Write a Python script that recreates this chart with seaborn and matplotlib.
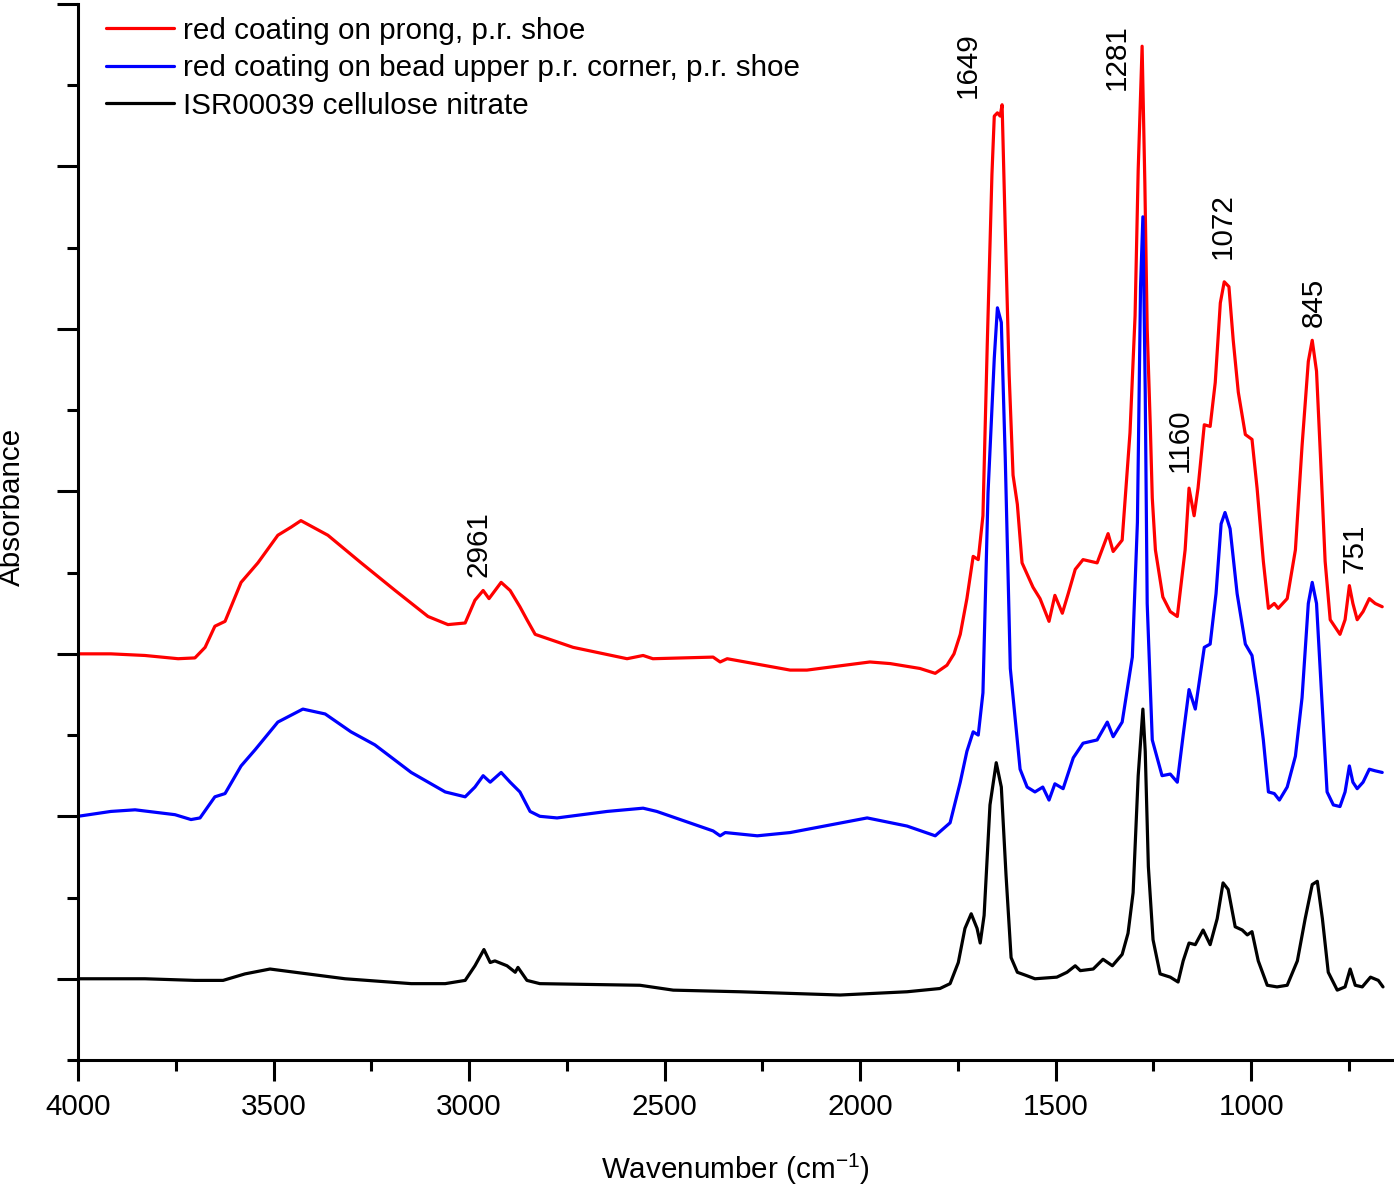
import numpy as np
import pandas as pd
import seaborn as sns
import matplotlib.pyplot as plt

# =============================
# Spectra (absorbance, one major tick = 1 unit)
# =============================
red_wn = [4000, 3916, 3829, 3744, 3701, 3675, 3650, 3624, 3583, 3540, 3489, 3455, 3430,
          3361, 3276, 3189, 3105, 3054, 3010, 2985, 2964, 2949, 2918, 2895, 2870, 2852,
          2831, 2734, 2596, 2555, 2530, 2376, 2358, 2340, 2179, 2136, 1975, 1923, 1847,
          1808, 1778, 1760, 1744, 1727, 1711, 1698, 1686, 1675, 1663, 1657, 1649, 1642,
          1637, 1629, 1619, 1609, 1598, 1586, 1558, 1540, 1517, 1502, 1483, 1468, 1450,
          1430, 1394, 1366, 1353, 1330, 1310, 1297, 1289, 1279, 1272, 1266, 1258, 1253,
          1245, 1226, 1207, 1189, 1169, 1159, 1146, 1136, 1120, 1105, 1092, 1079, 1069,
          1057, 1046, 1033, 1015, 998, 985, 969, 956, 941, 931, 908, 887, 870, 854, 844,
          833, 823, 811, 798, 773, 760, 749, 740, 729, 714, 698, 683, 665]
red_abs = [0.0, 0.0, -0.01, -0.03, -0.025, 0.04, 0.17, 0.2, 0.44, 0.56, 0.73, 0.78, 0.82,
           0.73, 0.56, 0.39, 0.23, 0.18, 0.19, 0.33, 0.39, 0.34, 0.44, 0.39, 0.29, 0.21,
           0.12, 0.04, -0.03, -0.01, -0.03, -0.02, -0.05, -0.03, -0.10, -0.10, -0.05, -0.06, -0.09,
           -0.12, -0.07, 0.0, 0.12, 0.34, 0.60, 0.58, 0.85, 1.90, 2.95, 3.31, 3.33, 3.31,
           3.38, 2.62, 1.72, 1.10, 0.92, 0.56, 0.41, 0.34, 0.20, 0.36, 0.25, 0.37, 0.52,
           0.58, 0.56, 0.74, 0.63, 0.70, 1.36, 2.08, 2.98, 3.74, 2.9, 2.0, 1.4, 0.96,
           0.64, 0.35, 0.26, 0.23, 0.64, 1.02, 0.85, 1.02, 1.41, 1.40, 1.67, 2.16, 2.29,
           2.26, 1.93, 1.61, 1.35, 1.32, 1.02, 0.57, 0.28, 0.31, 0.28, 0.34, 0.64, 1.28, 1.80, 1.93,
           1.74, 1.22, 0.57, 0.21, 0.12, 0.21, 0.42, 0.31, 0.21, 0.26, 0.34, 0.31, 0.29]

blue_wn = [4000, 3916, 3854, 3752, 3711, 3688, 3650, 3624, 3583, 3547, 3489, 3425, 3368,
           3302, 3241, 3148, 3061, 3010, 2985, 2964, 2946, 2918, 2895, 2870, 2844, 2819,
           2775, 2647, 2555, 2520, 2376, 2358, 2345, 2263, 2179, 1982, 1880, 1808, 1770,
           1744, 1727, 1711, 1698, 1686, 1673, 1657, 1649, 1639, 1629, 1616, 1606, 1591,
           1573, 1553, 1533, 1517, 1502, 1481, 1455, 1430, 1394, 1368, 1353, 1330, 1304,
           1291, 1283, 1277, 1271, 1266, 1253, 1228, 1207, 1189, 1174, 1159, 1143, 1120,
           1105, 1090, 1077, 1067, 1054, 1036, 1015, 998, 982, 969, 956, 941, 928, 908,
           887, 870, 854, 844, 833, 821, 806, 790, 773, 760, 749, 740, 729, 714, 698, 683, 665]
blue_abs = [0.0, 0.03, 0.04, 0.01, -0.02, -0.01, 0.12, 0.14, 0.31, 0.41, 0.58, 0.66, 0.63,
            0.52, 0.44, 0.27, 0.15, 0.12, 0.18, 0.25, 0.21, 0.27, 0.21, 0.15, 0.03, 0.0,
            -0.01, 0.03, 0.05, 0.03, -0.09, -0.12, -0.10, -0.12, -0.10, -0.01, -0.06, -0.12, -0.04,
            0.21, 0.40, 0.52, 0.50, 0.76, 1.99, 2.82, 3.13, 3.04, 2.21, 0.91, 0.66, 0.29,
            0.18, 0.15, 0.18, 0.10, 0.20, 0.17, 0.36, 0.45, 0.47, 0.58, 0.49, 0.58, 0.98,
            1.81, 3.26, 3.69, 2.61, 1.31, 0.47, 0.25, 0.26, 0.21, 0.50, 0.78, 0.66, 1.04,
            1.06, 1.37, 1.80, 1.87, 1.77, 1.37, 1.06, 0.99, 0.73, 0.47, 0.15, 0.14, 0.10, 0.18,
            0.37, 0.73, 1.31, 1.44, 1.31, 0.79, 0.15, 0.07, 0.06, 0.15, 0.31, 0.21, 0.17, 0.21, 0.29, 0.28, 0.27]

black_wn = [4000, 3829, 3701, 3629, 3573, 3509, 3445, 3317, 3148, 3061, 3010, 2985, 2962,
            2946, 2934, 2903, 2882, 2875, 2852, 2819, 2563, 2478, 2307, 2051, 1880, 1796,
            1770, 1749, 1732, 1716, 1701, 1693, 1683, 1668, 1652, 1639, 1627, 1614, 1598,
            1575, 1553, 1497, 1471, 1450, 1437, 1404, 1379, 1355, 1330, 1315, 1302, 1289,
            1277, 1271, 1263, 1251, 1233, 1207, 1187, 1174, 1159, 1143, 1123, 1105, 1087,
            1072, 1059, 1041, 1023, 1010, 998, 982, 959, 934, 908, 882, 862, 844, 831, 818,
            803, 780, 760, 747, 734, 716, 695, 675, 663]
black_abs = [0.0, 0.0, -0.01, -0.01, 0.03, 0.06, 0.04, 0.0, -0.03, -0.03, -0.01, 0.08, 0.18,
             0.10, 0.11, 0.08, 0.04, 0.07, -0.01, -0.03, -0.04, -0.07, -0.08, -0.10, -0.08, -0.06,
             -0.03, 0.10, 0.31, 0.40, 0.31, 0.22, 0.39, 1.07, 1.33, 1.18, 0.64, 0.13, 0.04,
             0.02, 0.0, 0.01, 0.04, 0.08, 0.05, 0.06, 0.12, 0.08, 0.15, 0.28, 0.53, 1.25,
             1.66, 1.40, 0.69, 0.24, 0.03, 0.01, -0.02, 0.11, 0.22, 0.21, 0.30, 0.21, 0.37,
             0.59, 0.55, 0.32, 0.30, 0.27, 0.29, 0.11, -0.04, -0.05, -0.04, 0.11, 0.37, 0.58, 0.60, 0.37,
             0.04, -0.07, -0.05, 0.06, -0.04, -0.05, 0.01, -0.01, -0.05]

sample_names = ["red coating on prong, p.r. shoe",
                "red coating on bead upper p.r. corner, p.r. shoe",
                "ISR00039 cellulose nitrate"]
sample_colors = ["#ff0000", "#0000ff", "#000000"]
stack_offsets = [2.0, 1.0, 0.0]

peak_labels = ["2961", "1649", "1281", "1160", "1072", "845", "751"]
peak_label_x = [2977, 1724, 1343, 1182, 1074, 839, 737]
peak_label_y = [2.47, 5.42, 5.47, 3.12, 4.43, 4.01, 2.50]

# =============================
# Build long table
# =============================
frames = []
for name, wn, ab, off in zip(sample_names, [red_wn, blue_wn, black_wn],
                             [red_abs, blue_abs, black_abs], stack_offsets):
    frames.append(pd.DataFrame({"wavenumber": wn,
                                "absorbance": np.array(ab) + off,
                                "sample": name}))
df = pd.concat(frames, ignore_index=True)

# =============================
# Style
# =============================
sns.set_style("ticks")
plt.rcParams["font.family"] = ["Liberation Sans", "DejaVu Sans"]
plt.rcParams["mathtext.fontset"] = "custom"
plt.rcParams["mathtext.rm"] = "Liberation Sans"
plt.rcParams["mathtext.it"] = "Liberation Sans:italic"
plt.rcParams["text.color"] = "black"
plt.rcParams["axes.labelcolor"] = "black"
plt.rcParams["axes.edgecolor"] = "black"
plt.rcParams["xtick.color"] = "black"
plt.rcParams["ytick.color"] = "black"
FS = 21.3

fig = plt.figure(figsize=(13.94, 11.85), dpi=100)
ax = fig.add_axes([78 / 1394, 1 - 1060 / 1185, 1314 / 1394, 1056 / 1185])

sns.lineplot(data=df, x="wavenumber", y="absorbance", hue="sample",
             hue_order=sample_names, palette=sample_colors,
             estimator=None, sort=False, linewidth=2.3, ax=ax)

ax.set_xlim(4000, 640)
ax.set_ylim(-0.5, 6.0)
ax.set_xticks(np.arange(4000, 999, -500))
ax.set_xticks(np.arange(3750, 640, -250), minor=True)
ax.set_yticks(np.arange(0, 6.01, 1.0))
ax.set_yticks(np.arange(-0.5, 6.0, 1.0), minor=True)
ax.set_yticklabels([])

for side in ["top", "right"]:
    ax.spines[side].set_visible(False)
for side in ["left", "bottom"]:
    ax.spines[side].set_linewidth(2.2)

ax.tick_params(which="major", direction="out", length=15, width=2.2,
               labelsize=FS, pad=9)
ax.tick_params(which="minor", direction="out", length=8, width=2.2)

ax.set_xlabel(r"Wavenumber (cm$^{-1}$)", fontsize=FS, labelpad=22)
ax.set_ylabel("Absorbance", fontsize=FS)
ax.yaxis.set_label_coords(-0.040, 0.524)

for txt, px, py in zip(peak_labels, peak_label_x, peak_label_y):
    ax.text(px, py, txt, rotation=90, ha="center", va="bottom", fontsize=FS)

handles, labels = ax.get_legend_handles_labels()
for h in handles:
    h.set_linewidth(2.3)
ax.legend(handles, labels, loc="upper left", bbox_to_anchor=(0.0213, 0.988),
          frameon=False, fontsize=FS, borderaxespad=0, borderpad=0,
          handlelength=2.3, handletextpad=0.3, labelspacing=0.32)

fig.savefig("out.png", dpi=100)
